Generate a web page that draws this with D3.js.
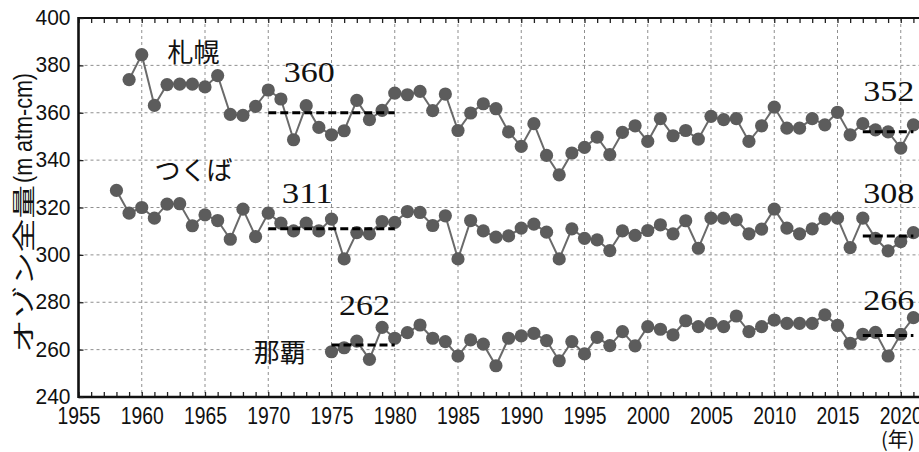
<!DOCTYPE html>
<html><head><meta charset="utf-8">
<script src="https://cdn.jsdelivr.net/npm/d3@7"></script>
<style>
html,body{margin:0;padding:0;background:#fff;}
svg{display:block;}
</style></head>
<body>
<svg id="chart" width="919" height="452"></svg>
<script>
// ---- data ----
const yTicks = [240, 260, 280, 300, 320, 340, 360, 380, 400];
const xTicks = [1955, 1960, 1965, 1970, 1975, 1980, 1985, 1990, 1995, 2000, 2005, 2010, 2015, 2020];

const sapporoYears = d3.range(1959, 2022);
const sapporoValues = [374.0, 384.5, 363.1, 371.9, 372.1, 372.1, 370.9, 375.7, 359.3, 358.9, 362.7,
  369.6, 365.8, 348.6, 363.0, 353.8, 350.7, 352.4, 365.2, 357.1, 361.0,
  368.3, 367.6, 369.0, 360.9, 367.9, 352.5, 359.9, 363.8, 361.7, 351.9,
  345.8, 355.4, 342.0, 333.8, 343.0, 345.4, 349.7, 342.3, 351.7, 354.5,
  347.9, 357.5, 350.3, 352.5, 348.9, 358.5, 357.1, 357.5, 347.9, 354.5,
  362.4, 353.5, 353.5, 357.5, 354.9, 360.2, 350.7, 355.4, 352.8, 351.9,
  345.1, 354.9];

const tsukubaYears = d3.range(1958, 2022);
const tsukubaValues = [327.2, 317.6, 320.0, 315.5, 321.4, 321.6, 312.3, 316.9, 314.5, 306.6, 319.3, 307.7,
  317.6, 313.4, 310.1, 313.4, 310.1, 315.1, 298.3, 309.4, 308.9, 314.1,
  313.7, 318.3, 317.9, 312.4, 316.5, 298.3, 314.5, 310.1, 307.5, 308.0,
  311.3, 313.0, 309.6, 298.3, 311.0, 307.0, 306.3, 301.8, 310.1, 308.2,
  310.3, 312.7, 308.9, 314.4, 302.8, 315.5, 315.5, 314.8, 308.9, 310.9,
  319.3, 311.3, 308.9, 311.0, 315.2, 315.5, 303.1, 315.5, 307.0, 301.7,
  305.6, 309.4];

const nahaYears = d3.range(1975, 2022);
const nahaValues = [259.1, 260.8, 263.6, 255.9, 269.4,
  264.8, 267.2, 270.4, 264.8, 263.4, 257.3, 264.1, 262.3, 253.2, 264.8,
  265.8, 266.9, 263.8, 255.3, 263.4, 258.2, 265.2, 261.7, 267.6, 261.6,
  269.7, 268.6, 266.2, 272.2, 269.7, 271.1, 269.7, 274.2, 267.6, 269.7,
  272.5, 271.1, 271.1, 271.1, 274.7, 270.2, 262.7, 266.5, 267.3, 257.3,
  266.5, 273.5];

const stationNames = ["札幌", "つくば", "那覇"];
const meanFrom = [1970, 2017, 1970, 2017, 1975, 2017];
const meanTo = [1980, 2021, 1980, 2021, 1980, 2021];
const meanValues = [360, 352, 311, 308, 262, 266];
const meanLabels = ["360", "352", "311", "308", "262", "266"];

// ---- layout ----
const svg = d3.select("#chart");
const mL = 78.5, mT = 18, mB = 397;
const pxPerYear = 12.65;
const x = d3.scaleLinear().domain([1955, 2025]).range([mL, mL + 70 * pxPerYear]);
const y = d3.scaleLinear().domain([240, 400]).range([mB, mT]);
const W = 919;

const gridColor = "#8f8f8f";
const grid = svg.append("g");
grid.selectAll("line.vg").data(xTicks.filter(t => t > 1955)).join("line")
  .attr("x1", d => x(d)).attr("x2", d => x(d)).attr("y1", mT).attr("y2", mB)
  .attr("stroke", gridColor).attr("stroke-width", 1).attr("stroke-dasharray", "3,3");
grid.selectAll("line.hg").data(yTicks.filter(t => t > 240 && t < 400)).join("line")
  .attr("x1", mL).attr("x2", W).attr("y1", d => y(d)).attr("y2", d => y(d))
  .attr("stroke", gridColor).attr("stroke-width", 1).attr("stroke-dasharray", "3,3");

// axes
const minorYears = d3.range(1955, 2025);
const xAxisB = d3.axisBottom(x).tickValues(minorYears).tickSize(-5).tickFormat("");
const xAxisT = d3.axisTop(x).tickValues(minorYears).tickSize(-5).tickFormat("");
const gB = svg.append("g").attr("transform", `translate(0,${mB})`).call(xAxisB);
const gT = svg.append("g").attr("transform", `translate(0,${mT})`).call(xAxisT);
[gB, gT].forEach(g => {
  g.select(".domain").remove();
  g.selectAll(".tick line").attr("stroke", "#222").attr("stroke-width", 1.3);
});
svg.append("line").attr("x1", mL).attr("x2", W).attr("y1", mB).attr("y2", mB)
  .attr("stroke", "#111").attr("stroke-width", 2.6);
svg.append("line").attr("x1", mL).attr("x2", W).attr("y1", mT).attr("y2", mT)
  .attr("stroke", "#111").attr("stroke-width", 2.2);

const axisFont = "'Liberation Sans',Arial,sans-serif";
const yAxis = d3.axisLeft(y).tickValues(yTicks).tickSize(-5).tickPadding(8).tickFormat(d3.format("d"));
const gL = svg.append("g").attr("transform", `translate(${mL},0)`).call(yAxis);
gL.select(".domain").remove();
gL.selectAll(".tick line").attr("stroke", "#222").attr("stroke-width", 1.3);
gL.selectAll(".tick text")
  .attr("font-family", axisFont)
  .attr("font-size", 22).attr("fill", "#111").attr("dy", "0.3em")
  .attr("textLength", 35).attr("lengthAdjust", "spacingAndGlyphs");
svg.append("line").attr("x1", mL).attr("x2", mL).attr("y1", mT - 1).attr("y2", mB + 1)
  .attr("stroke", "#111").attr("stroke-width", 2.6);

// x tick labels
const xLab = d3.axisBottom(x).tickValues(xTicks).tickSize(0).tickPadding(11).tickFormat(d3.format("d"));
const gXL = svg.append("g").attr("transform", `translate(0,${mB})`).call(xLab);
gXL.select(".domain").remove();
gXL.selectAll(".tick text")
  .attr("font-family", axisFont)
  .attr("font-size", 23).attr("fill", "#111")
  .attr("textLength", 43).attr("lengthAdjust", "spacingAndGlyphs");

svg.append("text").attr("x", x(2020) - 3).attr("y", 447).attr("text-anchor", "middle")
  .attr("font-family", "'Noto Sans CJK JP',sans-serif").attr("font-size", 20).attr("fill", "#111")
  .text("(年)");

// y axis title
svg.append("text").attr("transform", `translate(32,353) rotate(-90)`)
  .attr("font-family", "'Noto Sans CJK JP',sans-serif").attr("font-size", 23).attr("fill", "#111")
  .attr("textLength", 168).attr("lengthAdjust", "spacingAndGlyphs")
  .text("オゾン全量");
svg.append("text").attr("transform", `translate(32,183) rotate(-90)`)
  .attr("font-family", axisFont).attr("font-size", 25).attr("fill", "#111")
  .attr("textLength", 110).attr("lengthAdjust", "spacingAndGlyphs")
  .text("(m atm-cm)");

// series
const series = [
  {years: sapporoYears, values: sapporoValues},
  {years: tsukubaYears, values: tsukubaValues},
  {years: nahaYears, values: nahaValues}
];
const line = d3.line().x(d => x(d[0])).y(d => y(d[1]));
series.forEach(s => {
  const pts = s.years.map((yr, i) => [yr, s.values[i]]);
  const g = svg.append("g");
  g.append("path").datum(pts).attr("d", line).attr("fill", "none")
    .attr("stroke", "#6a6a6a").attr("stroke-width", 2);
  g.selectAll("circle").data(pts).join("circle")
    .attr("cx", d => x(d[0])).attr("cy", d => y(d[1])).attr("r", 6.6)
    .attr("fill", "#5c5c5c");
});

// mean segments
const meanG = svg.append("g");
meanValues.forEach((v, i) => {
  meanG.append("line")
    .attr("x1", x(meanFrom[i])).attr("x2", x(meanTo[i]))
    .attr("y1", y(v)).attr("y2", y(v))
    .attr("stroke", "#000").attr("stroke-width", 3).attr("stroke-dasharray", "8,4");
});
const labelDx = [41, 26, 39, 26, 33, 26];
const labelDy = [-31, -31, -26, -33, -30, -25];
meanLabels.forEach((t, i) => {
  meanG.append("text")
    .attr("x", x(meanFrom[i]) + labelDx[i]).attr("y", y(meanValues[i]) + labelDy[i])
    .attr("text-anchor", "middle")
    .attr("font-family", "'Liberation Serif','DejaVu Serif',serif").attr("font-size", 29)
    .attr("textLength", 51).attr("lengthAdjust", "spacingAndGlyphs")
    .attr("fill", "#111").text(t);
});

// station labels (placed in data coordinates)
const nameX = [1964.1, 1964.1, 1970.9];
const nameY = [381.5, 331.5, 254.8];
stationNames.forEach((n, i) => {
  svg.append("text").attr("x", x(nameX[i])).attr("y", y(nameY[i]))
    .attr("text-anchor", "middle")
    .attr("font-family", "'Noto Sans CJK JP',sans-serif").attr("font-size", 26)
    .attr("fill", "#111").text(n);
});
</script>
</body></html>
